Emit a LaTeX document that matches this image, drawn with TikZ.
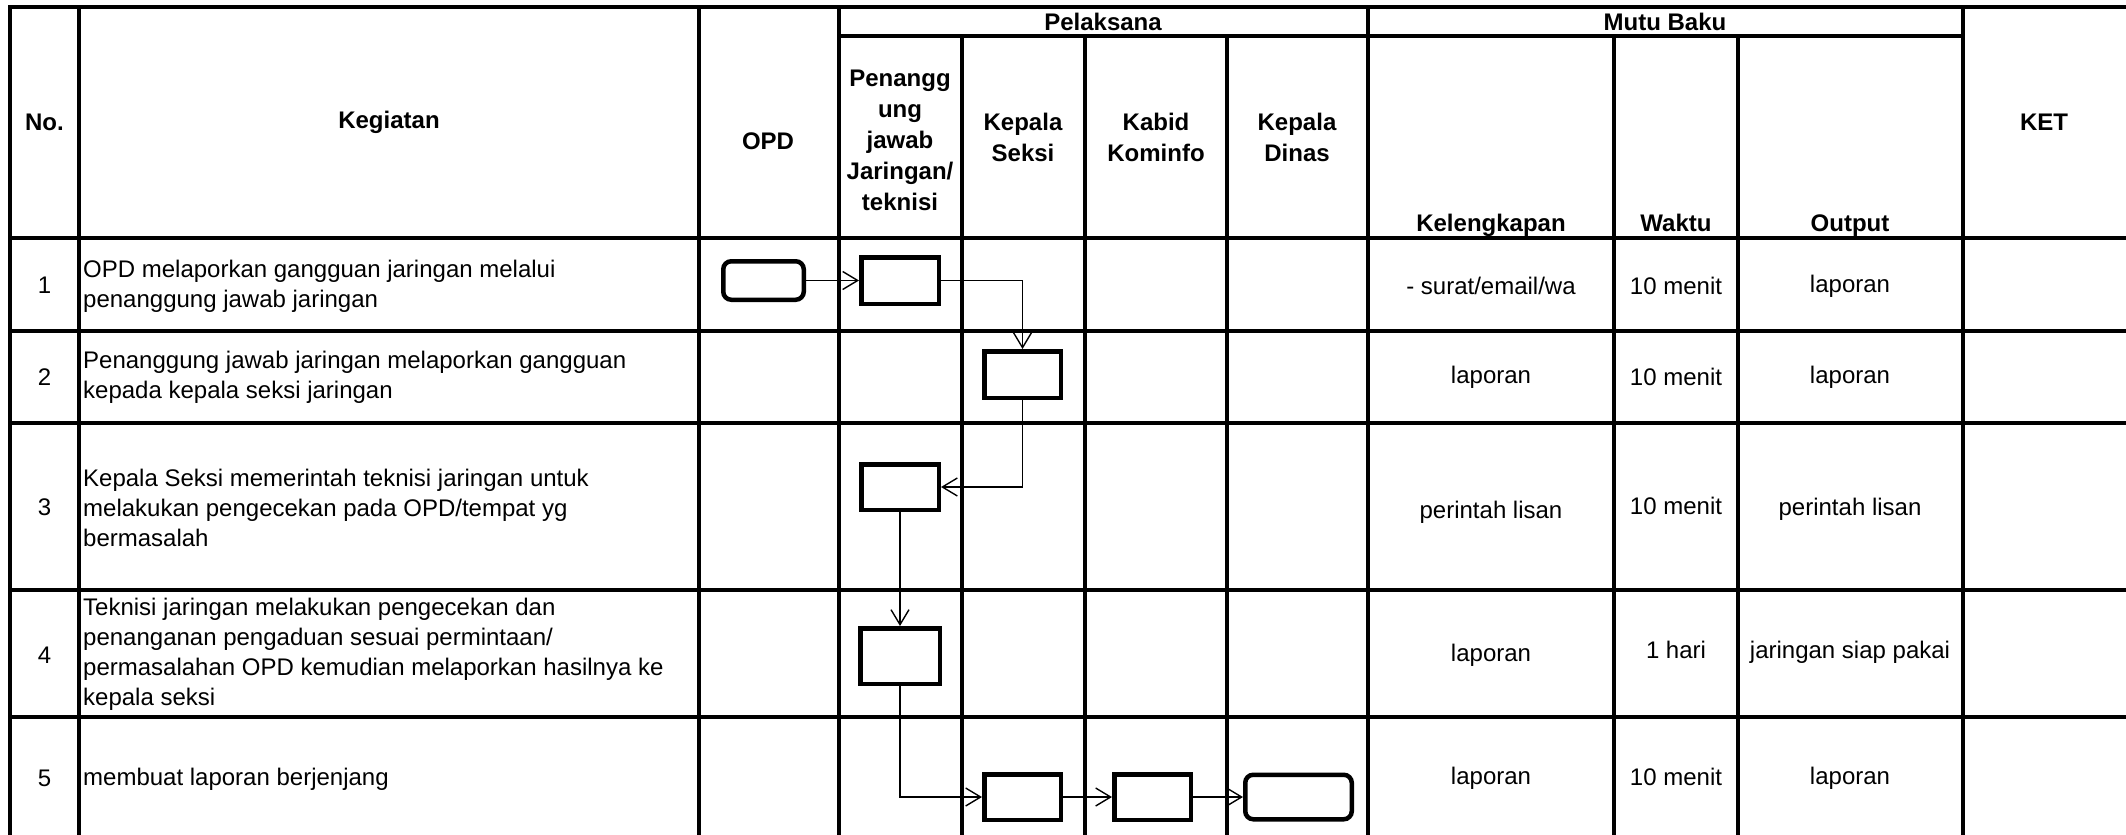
\documentclass[tikz,border=0pt]{standalone}
\usepackage{fontspec}
\setmainfont{Liberation Sans}
\usetikzlibrary{arrows.meta}
\begin{document}
\begin{tikzpicture}[x=1pt,y=-1pt,
  grid/.style={line width=3.2pt, line cap=rect},
  cell/.style={inner sep=0pt, font=\fontsize{24}{30}\selectfont},
  bodytext/.style={cell, anchor=west, align=left},
  hdr/.style={inner sep=0pt, align=center, font=\bfseries\fontsize{24}{31}\selectfont},
  procbox/.style={draw, line width=4.5pt, inner sep=0pt, minimum width=#1},
  termbox/.style={draw, line width=4.5pt, inner sep=0pt, rounded corners=8pt, minimum width=#1},
  conn/.style={line width=1.4pt, -{Straight Barb[length=15pt,width=18pt,line width=1.4pt]}}
]
\useasboundingbox (0,0) rectangle (2126,835);
\fill[white] (0,0) rectangle (2126,835);

% grid
\draw[grid] (10,7) -- (2126,7);
\draw[grid] (839,36) -- (1963,36);
\foreach \y in {238,331,423,590,717} \draw[grid] (10,\y) -- (2126,\y);
\foreach \x in {10,79,699,839,1368,1963} \draw[grid] (\x,7) -- (\x,838);
\foreach \x in {962,1085,1227,1614,1738} \draw[grid] (\x,36) -- (\x,838);

% header
\node[hdr] (hNo) at (44.5,122) {No.};
\node[hdr] (hKeg) at (389,122) {Kegiatan};
\node[hdr] (hOPD) at (768,141) {OPD};
\node[hdr] (hPel) at (1103,22) {Pelaksana};
\node[hdr] (hMutu) at (1665,22) {Mutu Baku};
\node[hdr] (hPj) at (900,140) {Penangg\\ung\\jawab\\Jaringan/\\teknisi};
\node[hdr] (hKs) at (1023,137) {Kepala\\Seksi};
\node[hdr] (hKb) at (1156,137) {Kabid\\Kominfo};
\node[hdr] (hKd) at (1297,137) {Kepala\\Dinas};
\node[hdr, anchor=base] (hKel) at (1491,231) {Kelengkapan};
\node[hdr, anchor=base] (hWak) at (1676,231) {Waktu};
\node[hdr, anchor=base] (hOut) at (1850,231) {Output};
\node[hdr] (hKet) at (2044,122) {KET};

% numbers
\node[cell] (n1) at (44.5,285) {1};
\node[cell] (n2) at (44.5,377) {2};
\node[cell] (n3) at (44.5,507) {3};
\node[cell] (n4) at (44.5,655) {4};
\node[cell] (n5) at (44.5,778) {5};

% kegiatan
\node[bodytext] (k1) at (83,286) {OPD melaporkan gangguan jaringan melalui\\penanggung jawab jaringan};
\node[bodytext] (k2) at (83,377) {Penanggung jawab jaringan melaporkan gangguan\\kepada kepala seksi jaringan};
\node[bodytext] (k3) at (83,508) {Kepala Seksi memerintah teknisi jaringan untuk\\melakukan pengecekan pada OPD/tempat yg\\bermasalah};
\node[bodytext] (k4) at (83,654) {Teknisi jaringan melakukan pengecekan dan\\penanganan pengaduan sesuai permintaan/\\permasalahan OPD kemudian melaporkan hasilnya ke\\kepala seksi};
\node[bodytext] (k5) at (83,779) {membuat laporan berjenjang};

% mutu baku
\node[cell] (l1) at (1491,286) {- surat/email/wa};
\node[cell] (w1) at (1676,286) {10 menit};
\node[cell] (o1) at (1850,286) {laporan};
\node[cell] (l2) at (1491,377) {laporan};
\node[cell] (w2) at (1676,377) {10 menit};
\node[cell] (o2) at (1850,377) {laporan};
\node[cell] (l3) at (1491,512) {perintah lisan};
\node[cell] (w3) at (1676,506) {10 menit};
\node[cell] (o3) at (1850,509) {perintah lisan};
\node[cell] (l4) at (1491,655) {laporan};
\node[cell] (w4) at (1676,650) {1 hari};
\node[cell] (o4) at (1850,652) {jaringan siap pakai};
\node[cell] (l5) at (1491,778) {laporan};
\node[cell] (w5) at (1676,777) {10 menit};
\node[cell] (o5) at (1850,778) {laporan};

% flow boxes
\node[termbox=80.5pt, minimum height=38.5pt] (opd1) at (763.5,280.5) {};
\node[procbox=77.5pt, minimum height=46.5pt] (p1) at (900,280.5) {};
\node[procbox=76.5pt, minimum height=46.5pt] (s2) at (1022.5,374.5) {};
\node[procbox=77.5pt, minimum height=45.5pt] (p3) at (900,487) {};
\node[procbox=79.5pt, minimum height=55.5pt] (p4) at (900,656) {};
\node[procbox=76.5pt, minimum height=45.5pt] (s5) at (1022.5,797) {};
\node[procbox=76.5pt, minimum height=45.5pt] (k5) at (1152.5,797) {};
\node[termbox=106.5pt, minimum height=44.5pt] (d5) at (1298.5,797) {};

% connectors
\draw[conn] (opd1.east) -- (p1.west);
\draw[conn] (p1.east) -| (s2.north);
\draw[conn] (s2.south) |- (p3.east);
\draw[conn] (p3.south) -- (p4.north);
\draw[conn] (p4.south) |- (s5.west);
\draw[conn] (s5.east) -- (k5.west);
\draw[conn] (k5.east) -- (d5.west);
\end{tikzpicture}
\end{document}
